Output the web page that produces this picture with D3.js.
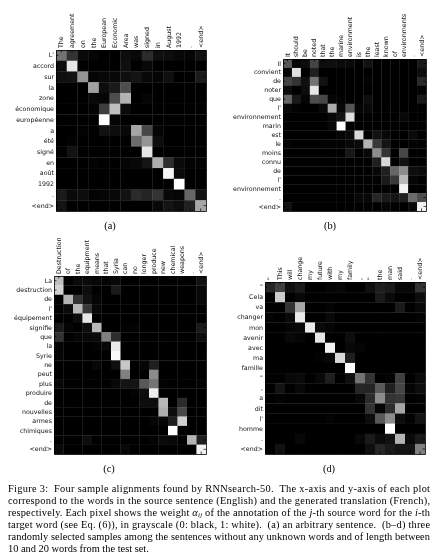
<!DOCTYPE html>
<html><head><meta charset="utf-8">
<script src="https://cdn.jsdelivr.net/npm/d3@7/dist/d3.min.js"></script>
<style>
html,body{margin:0;padding:0;background:#fff;}
svg{display:block;filter:blur(0.5px);}
.domain{stroke:#000;stroke-width:.8;}
.tick line{stroke:#000;stroke-width:.7;}
.tick text{font-family:"DejaVu Sans";font-size:6.3px;fill:#111;}
.cap{font-family:"Liberation Serif";font-size:10.4px;fill:#000;}
</style></head><body><svg id="c" width="440" height="555"></svg>
<script>
const colsA=["The","agreement","on","the","European","Economic","Area","was","signed","in","August","1992",".","<end>"];
const rowsA=["L'","accord","sur","la","zone","économique","européenne","a","été","signé","en","août","1992",".","<end>"];
const valsA=[
[.45,.2,.04,.02,0,0,.05,.03,.17,.06,.05,.03,.02,.07],
[.05,.9,0,0,0,0,.06,0,.03,0,0,0,0,0],
[.06,.07,.58,.02,.03,.03,.06,.08,.03,.02,.06,0,0,.1],
[0,0,0,.63,.05,.1,.3,0,0,0,0,0,0,0],
[0,0,0,.03,.02,.3,.7,0,.02,0,0,0,0,0],
[0,0,0,.01,.24,.75,.04,0,0,0,0,0,0,0],
[0,0,0,0,1,.02,0,0,0,0,0,0,0,0],
[0,0,.01,0,.07,.05,.03,.65,.28,.02,0,0,0,0],
[0,.01,0,0,0,0,0,.42,.58,.05,0,0,0,0],
[0,.07,0,0,0,0,0,0,.9,0,0,0,0,0],
[0,0,0,.01,0,0,.02,.03,.08,.68,.18,.04,.01,.01],
[0,0,0,0,0,0,0,0,0,0,.96,.04,0,0],
[0,0,0,0,0,0,0,0,0,0,0,1,0,0],
[.1,.04,.05,.01,.02,.03,.07,.17,.14,.2,.03,.02,.4,.07],
[.08,0,0,0,0,0,0,0,0,.03,.08,.05,.13,.65]];
const colsB=["It","should","be","noted","that","the","marine","environment","is","the","least","known","of","environments",".","<end>"];
const rowsB=["Il","convient","de","noter","que","l'","environnement","marin","est","le","moins","connu","de","l'","environnement",".","<end>"];
const valsB=[
[.35,.02,.05,.27,.05,.06,.04,.04,0,.07,0,0,0,0,0,.1],
[.03,.88,0,.12,0,0,0,0,0,0,0,0,0,0,0,.05],
[.27,.2,.06,.45,.07,0,0,0,0,.01,0,0,0,0,0,.16],
[.05,0,.05,.9,0,0,0,0,0,0,0,0,0,0,0,.01],
[.4,.1,.02,.3,.28,.02,.01,0,0,.05,0,0,0,0,0,.1],
[.03,.01,0,0,.03,.67,.03,.33,.02,.03,0,0,0,0,0,0],
[0,0,0,0,0,.03,.08,.88,0,0,0,0,0,.03,0,0],
[0,0,0,0,0,.03,1,0,0,0,0,0,0,0,0,0],
[0,0,0,0,0,0,.02,.04,.85,0,.07,.03,0,0,.04,0],
[.01,0,0,0,.01,.01,.01,.03,.04,.7,.22,.08,0,0,.01,0],
[0,0,0,0,0,0,0,.09,0,.03,.55,.2,0,.28,0,0],
[0,0,0,0,0,0,0,0,0,0,.12,.85,0,.07,0,0],
[0,0,0,0,0,0,0,0,0,0,.03,.12,.4,.55,.05,.04],
[0,0,0,0,0,0,0,0,0,0,.01,.1,.22,.72,.02,0],
[0,0,0,0,0,0,0,0,0,0,0,.01,0,.95,0,0],
[0,0,0,0,0,0,0,0,.03,.03,.15,.1,.08,.12,.42,.3],
[.07,0,0,0,0,0,0,0,0,0,0,.02,0,0,.04,.95]];
const colsC=["Destruction","of","the","equipment","means","that","Syria","can","no","longer","produce","new","chemical","weapons",".","<end>"];
const rowsC=["La","destruction","de","l'","équipement","signifie","que","la","Syrie","ne","peut","plus","produire","de","nouvelles","armes","chimiques",".","<end>"];
const valsC=[
[.75,0,.04,.04,.03,.02,.03,0,0,0,0,0,0,0,0,.07],
[.82,0,0,.05,0,0,.1,0,0,0,0,0,0,0,0,.03],
[0,.7,.2,.07,.02,0,0,0,0,0,0,0,0,0,0,.03],
[0,.04,.72,.22,.03,0,0,0,0,0,0,0,0,0,0,0],
[0,0,.05,.9,0,0,0,0,0,0,0,0,0,0,0,0],
[.1,.02,0,.05,.72,0,0,.01,.01,0,0,0,0,0,0,.1],
[.2,0,.02,.03,.04,.5,.18,0,0,0,0,0,0,0,0,.05],
[.02,0,0,0,.01,.03,.92,0,0,0,0,0,0,0,0,0],
[.02,0,0,0,0,0,.98,0,0,0,0,0,0,0,0,0],
[0,0,0,0,.03,0,.06,.78,0,.02,.12,0,0,0,0,0],
[0,0,0,0,0,0,0,.5,0,0,.55,0,0,0,0,0],
[.03,0,0,0,0,0,.03,.08,.08,.35,.45,.01,0,0,0,.01],
[0,0,0,0,0,0,0,0,.01,.05,.93,0,0,0,0,0],
[0,0,0,0,0,0,0,0,0,.05,.05,.72,0,.17,0,0],
[0,0,0,0,0,0,0,0,0,0,0,.68,.05,.28,0,0],
[0,0,0,0,0,0,0,0,0,0,.02,.02,.12,.82,0,0],
[0,0,0,0,0,0,0,0,0,0,0,0,1,0,0,0],
[0,0,0,.05,0,0,0,0,0,0,.01,.04,.03,0,.7,.12],
[.04,0,0,0,0,0,0,.03,0,0,0,0,0,0,0,.95]];
const colsD=["\"","This","will","change","my","future","with","my","family",",","\"","the","man","said",".","<end>"];
const rowsD=["\"","Cela","va","changer","mon","avenir","avec","ma","famille","\"",",","a","dit","l'","homme",".","<end>"];
const valsD=[
[.15,.25,.06,.1,0,0,.02,.03,0,0,.06,.12,.1,.03,.03,.2],
[0,.8,0,.03,0,0,0,0,0,0,0,.1,.04,0,0,.05],
[0,0,.2,.65,0,0,.01,0,0,0,0,0,0,.1,0,.03],
[.01,0,.04,.92,0,0,.03,0,0,0,0,0,0,0,0,.01],
[0,0,.02,.03,.92,.04,.02,0,0,0,0,0,0,0,0,0],
[0,0,.03,.02,0,.9,0,0,.05,0,0,0,0,0,0,0],
[0,0,0,0,0,0,.95,0,.03,.02,0,0,0,0,0,0],
[0,0,0,0,0,.01,.03,.85,.12,0,0,0,0,0,0,0],
[0,0,0,0,0,0,0,0,1,0,0,0,0,0,0,0],
[0,0,.03,.04,0,.03,.12,0,.06,.45,.2,0,.01,.25,0,.04],
[0,.08,0,.03,0,0,0,0,0,.15,.14,.35,.12,.27,.02,.05],
[0,.01,0,0,0,0,0,0,0,.03,.17,.55,.2,.22,0,.01],
[0,0,0,0,0,0,0,0,0,0,.2,.02,.18,.65,0,0],
[0,0,0,0,0,0,.01,0,0,0,.05,.35,.55,.05,.01,.08],
[0,0,0,0,0,0,0,0,0,0,0,0,1,0,0,0],
[0,0,0,.03,0,0,0,0,0,.03,.1,.04,.07,.7,.04,.1],
[0,.07,0,0,0,0,0,0,0,0,.06,.15,.1,.08,.08,.5]];
const panels=[
 {cols:colsA,rows:rowsA,vals:valsA,x:[56,206],y:[50,211],tag:"(a)",tx:110,ty:229},
 {cols:colsB,rows:rowsB,vals:valsB,x:[283,426],y:[59,211],tag:"(b)",tx:330,ty:229},
 {cols:colsC,rows:rowsC,vals:valsC,x:[54,206],y:[276,454],tag:"(c)",tx:109,ty:472},
 {cols:colsD,rows:rowsD,vals:valsD,x:[265,425],y:[282,454],tag:"(d)",tx:329,ty:472}];
const gray=d3.scaleLinear().domain([0,1]).range(["#000","#fff"]);
const svg=d3.select("#c");
const inward=2.5;
panels.forEach(p=>{
 const X=d3.scaleBand().domain(d3.range(p.cols.length)).range(p.x);
 const Y=d3.scaleBand().domain(d3.range(p.rows.length)).range(p.y);
 const g=svg.append("g");
 g.selectAll("g.r").data(p.vals).join("g").attr("class","r").each(function(r,i){
  d3.select(this).selectAll("rect").data(r).join("rect")
   .attr("x",(d,j)=>X(j)).attr("y",Y(i)).attr("width",X.bandwidth()+.3).attr("height",Y.bandwidth()+.3)
   .attr("fill",d=>gray(d));
 });
 const ax=g.append("g").attr("transform",`translate(0,${p.y[0]})`)
  .call(d3.axisTop(X).tickFormat(i=>p.cols[i]).tickSize(-inward).tickPadding(2).tickSizeOuter(0));
 ax.selectAll(".tick text").attr("transform","rotate(-90)").attr("text-anchor","start").attr("x",2).attr("y",0).attr("dy",".32em");
 g.append("g").attr("transform",`translate(${p.x[0]},0)`)
  .call(d3.axisLeft(Y).tickFormat(i=>p.rows[i]).tickSize(-inward).tickPadding(2).tickSizeOuter(0));
 g.append("g").attr("transform",`translate(0,${p.y[1]})`)
  .call(d3.axisBottom(X).tickFormat("").tickSize(-inward).tickSizeOuter(0));
 g.append("g").attr("transform",`translate(${p.x[1]},0)`)
  .call(d3.axisRight(Y).tickFormat("").tickSize(-inward).tickSizeOuter(0));
 svg.append("text").attr("class","cap").attr("x",p.tx).attr("y",p.ty).attr("text-anchor","middle").text(p.tag);
});
const captionLines=[
 [["Figure 3:  Four sample alignments found by RNNsearch-50.  The x-axis and y-axis of each plot"]],
 [["correspond to the words in the source sentence (English) and the generated translation (French),"]],
 [["respectively. Each pixel shows the weight "],["α","i"],["ij","s"],[" of the annotation of the "],["j","i"],["-th source word for the "],["i","i"],["-th"]],
 [["target word (see Eq. (6)), in grayscale (0: black, 1: white).  (a) an arbitrary sentence.  (b–d) three"]],
 [["randomly selected samples among the sentences without any unknown words and of length between"]],
 [["10 and 20 words from the test set."]]];
captionLines.forEach((l,i)=>{
 const t=svg.append("text").attr("class","cap").attr("x",8).attr("y",492+i*11.9).attr("xml:space","preserve").style("white-space","pre");
 if(i<5) t.attr("textLength",422).attr("lengthAdjust","spacing");
 l.forEach(s=>{
  const ts=t.append("tspan").text(s[0]);
  if(s[1]==="i") ts.attr("font-style","italic");
  if(s[1]==="s") ts.attr("font-style","italic").attr("font-size","7px").attr("dy",1.5);
  if(s[0].startsWith(" of the annotation")) ts.attr("dy",-1.5);
 });
});
</script></body></html>
